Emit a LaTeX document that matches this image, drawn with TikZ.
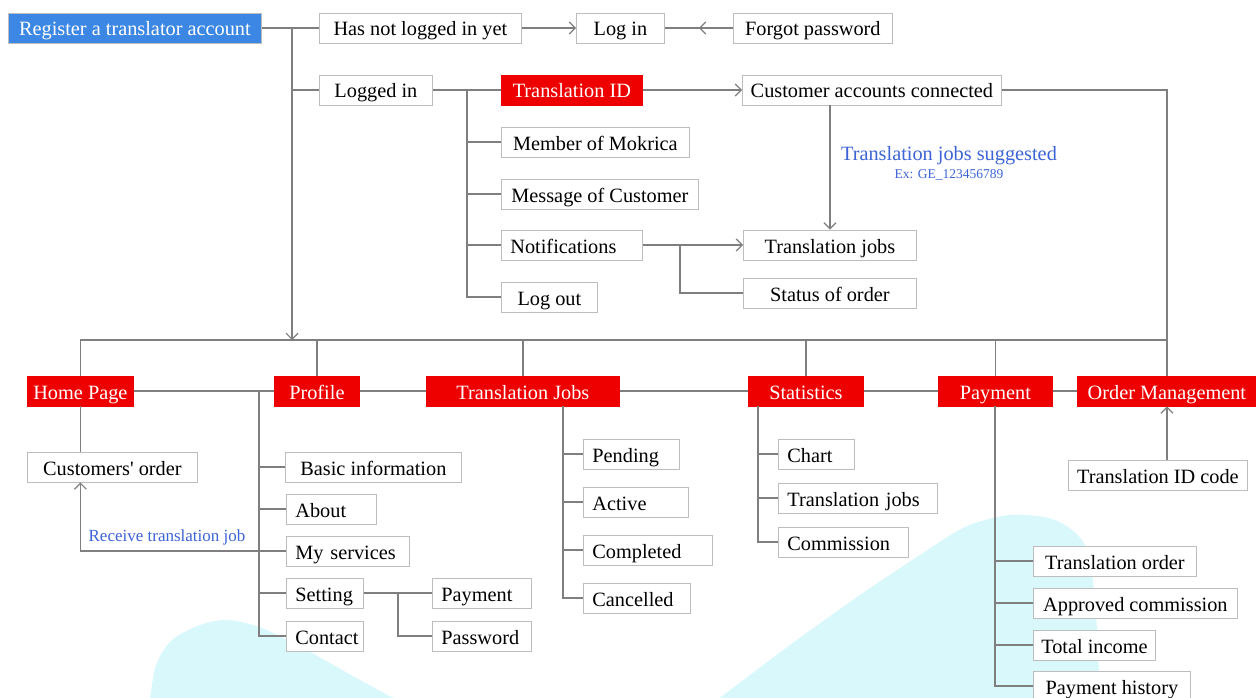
\documentclass[tikz,border=0pt]{standalone}
\usepackage{fontspec}
\setmainfont{Liberation Serif}
\usetikzlibrary{arrows.meta,decorations.markings}
\definecolor{hdred}{HTML}{EE0000}
\definecolor{regblue}{HTML}{3B87E3}
\definecolor{labblue}{HTML}{3D64D6}
\definecolor{linegray}{HTML}{7F7F7F}
\definecolor{boxgray}{HTML}{BDBDBD}
\definecolor{blobcyan}{HTML}{D9F8FC}

\begin{document}
\begin{tikzpicture}[x=1pt,y=-1pt,
    font=\fontsize{20.3}{24}\selectfont,
    >={Straight Barb[length=6pt,width=12pt]},
    box/.style={draw=boxgray, line width=0.8pt, fill=white, minimum height=30pt,
        inner ysep=0pt, text height=18pt, text depth=2pt, anchor=west},
    cbox/.style={box, minimum width=#1},
    lbox/.style={box, inner xsep=9pt, text width=#1, align=left},
    redbox/.style={cbox=#1, fill=hdred, draw=hdred, text=white},
    line/.style={draw=linegray, line width=1.2pt},
    midarrow/.style={postaction={decorate}, decoration={markings,
        mark=at position 0.5 with {\arrow[line width=1.2pt]{>}}}},
    note/.style={text=labblue, inner sep=0pt}]
        \useasboundingbox[fill=white] (0,0) rectangle (1256,698);
        % Background
        \fill[blobcyan] plot[smooth] coordinates {(150,700) (156,665) (172,640) (200,625)
            (228,620) (262,628) (310,652) (360,680) (397,700)} -- cycle;
        \fill[blobcyan] plot[smooth] coordinates {(717,700) (790,645) (860,595) (920,555)
            (965,527) (1010,515) (1055,520) (1085,545) (1095,600) (1100,700)} -- cycle;
        % Vertices
        \node[cbox=253pt, fill=regblue, text=white] (reg) at (8,28) {Register a translator account};
        \node[cbox=202pt] (hasnot) at (319,28) {Has not logged in yet};
        \node[cbox=88pt] (login) at (576,28) {Log in};
        \node[cbox=159pt] (forgot) at (733,28) {Forgot password};
        \node[cbox=113pt] (loggedin) at (319,90) {Logged in};
        \node[redbox=141pt] (transid) at (501,90) {Translation ID};
        \node[cbox=259pt] (custacc) at (742,90) {Customer accounts connected};
        \node[cbox=188pt] (member) at (501,142) {Member of Mokrica};
        \node[cbox=197pt] (message) at (501,194) {Message of Customer};
        \node[lbox=123pt] (notif) at (501,245) {Notifications};
        \node[cbox=96pt] (logout) at (501,297) {Log out};
        \node[cbox=173pt] (tjobs) at (743,245) {Translation jobs};
        \node[cbox=173pt] (status) at (743,293) {Status of order};
        \node[note] (sugg) at (949,156) {Translation jobs suggested};
        \node[note, font=\fontsize{13.5}{15}\selectfont] (suggex) at (949,175) {Ex: GE\_123456789};

        \node[redbox=106pt] (home) at (27,391) {Home Page};
        \node[redbox=85pt] (profile) at (274,391) {Profile};
        \node[redbox=193pt] (tjobsm) at (426,391) {Translation Jobs};
        \node[redbox=115pt] (stats) at (748,391) {Statistics};
        \node[redbox=114pt] (payment) at (938,391) {Payment};
        \node[redbox=179pt] (ordmgmt) at (1077,391) {Order Management};

        \node[cbox=170pt] (custorder) at (27,467) {Customers\textquotesingle\ order};
        \node[note, font=\fontsize{17}{20}\selectfont] (receive) at (167,537) {Receive translation job};
        \node[cbox=176pt] (basic) at (285,467) {Basic information};
        \node[lbox=72pt] (about) at (286,509) {About};
        \node[lbox=105pt] (myserv) at (286,551) {My services};
        \node[lbox=59pt] (setting) at (286,593) {Setting};
        \node[lbox=59pt] (contact) at (286,636) {Contact};
        \node[lbox=81pt] (spay) at (432,593) {Payment};
        \node[lbox=81pt] (spass) at (432,636) {Password};

        \node[lbox=78pt] (pending) at (583,454) {Pending};
        \node[lbox=87pt] (active) at (583,502) {Active};
        \node[lbox=111pt] (completed) at (583,550) {Completed};
        \node[lbox=89pt] (cancelled) at (583,598) {Cancelled};

        \node[lbox=58pt] (chart) at (778,454) {Chart};
        \node[lbox=141pt] (sjobs) at (778,498) {Translation jobs};
        \node[lbox=112pt] (commission) at (778,542) {Commission};

        \node[cbox=179pt] (tidcode) at (1068,475) {Translation ID code};
        \node[cbox=163pt] (porder) at (1033,561) {Translation order};
        \node[cbox=204pt] (approved) at (1033,603) {Approved commission};
        \node[cbox=122pt] (income) at (1033,645) {Total income};
        \node[cbox=157pt] (history) at (1033,686) {Payment history};

        \coordinate (regsplit) at (292,28);
        \coordinate (busin) at (292,340);
        \coordinate (lisplit) at (467,90);
        \coordinate (nsplit) at (680,245);
        \coordinate (psplit) at (259,391);
        \coordinate (ssplit) at (398,593);
        \coordinate (jsplit) at (563,406);
        \coordinate (stsplit) at (758,406);
        \coordinate (paysplit) at (995,406);
        % Edges
        \draw[line] (reg) -- (hasnot);
        \draw[line,->] (hasnot) -- (login);
        \draw[line,midarrow] (forgot) -- (login);
        \draw[line] (regsplit) |- (loggedin);
        \draw[line,->] (regsplit) -- (busin);

        \draw[line] (loggedin) -- (transid);
        \foreach \n in {member,message,notif,logout}
            \draw[line] (lisplit) |- (\n);
        \draw[line,->] (transid) -- (custacc);
        \draw[line,->] (custacc.south -| tjobs.north) -- (tjobs.north);
        \draw[line,->] (notif) -- (tjobs);
        \draw[line] (nsplit) |- (status);
        \draw[line] (custacc) -| (ordmgmt.north);

        \draw[line] (home.north) |- (ordmgmt.north |- busin);
        \foreach \n in {profile,tjobsm,stats,payment}
            \draw[line] (\n.north) -- (\n.north |- busin);
        \draw[line] (home) -- (profile) -- (tjobsm) -- (stats) -- (payment) -- (ordmgmt);

        \draw[line] (home.south) -- (home.south |- custorder.north);
        \foreach \n in {basic,about,myserv,setting,contact}
            \draw[line] (psplit) |- (\n);
        \draw[line,->] (myserv) -| (home.south |- custorder.south);
        \draw[line] (setting) -- (spay);
        \draw[line] (ssplit) |- (spass);

        \foreach \n in {pending,active,completed,cancelled}
            \draw[line] (jsplit) |- (\n);
        \foreach \n in {chart,sjobs,commission}
            \draw[line] (stsplit) |- (\n);
        \foreach \n in {porder,approved,income,history}
            \draw[line] (paysplit) |- (\n);
        \draw[line,->] (ordmgmt.south |- tidcode.north) -- (ordmgmt.south);
    \end{tikzpicture}
\end{document}
